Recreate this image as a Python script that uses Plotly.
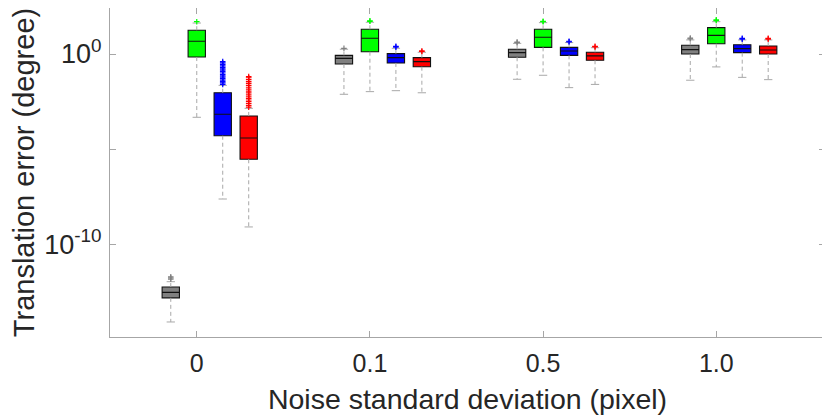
import plotly.graph_objects as go

# ---- data (log10 of translation error, degrees) ----
noise_labels = ["0", "0.1", "0.5", "1.0"]
method_colors = ["#808080", "#00ff00", "#0000ff", "#ff0000"]

gray_upper = [-11.98, 0.25, 0.56, 0.74]
gray_q3 = [-12.26, -0.07, 0.25, 0.46]
gray_med = [-12.54, -0.23, 0.07, 0.23]
gray_q1 = [-12.83, -0.53, -0.17, 0.00]
gray_lower = [-14.10, -2.12, -1.33, -1.38]
gray_out = [[-11.85, -11.78, -11.72], [0.30], [0.60, 0.63], [0.80, 0.84]]

green_upper = [1.63, 1.67, 1.65, 1.70]
green_q3 = [1.25, 1.30, 1.30, 1.39]
green_med = [0.67, 0.83, 0.88, 0.98]
green_q1 = [-0.16, 0.12, 0.35, 0.54]
green_lower = [-3.33, -1.98, -1.12, -0.68]
green_out = [[1.70], [1.72, 1.75], [1.70, 1.72], [1.76, 1.80]]

blue_upper = [-1.65, 0.30, 0.60, 0.74]
blue_q3 = [-2.04, 0.02, 0.35, 0.49]
blue_med = [-3.17, -0.19, 0.16, 0.28]
blue_q1 = [-4.30, -0.47, -0.07, 0.07]
blue_lower = [-7.63, -1.93, -1.77, -1.23]
blue_out = [[-1.60, -1.52, -1.45, -1.38, -1.30, -1.22, -1.15, -1.08, -1.00, -0.93,
             -0.85, -0.78, -0.70, -0.62, -0.55, -0.47, -0.40],
            [0.36, 0.40], [0.64, 0.67], [0.78, 0.82]]

red_upper = [-2.86, 0.09, 0.33, 0.74]
red_q3 = [-3.26, -0.19, 0.09, 0.42]
red_med = [-4.42, -0.40, -0.10, 0.21]
red_q1 = [-5.54, -0.67, -0.33, 0.00]
red_lower = [-9.10, -2.04, -1.60, -1.35]
red_out = [[-2.80, -2.70, -2.60, -2.50, -2.42, -2.33, -2.25, -2.15, -2.05, -1.95,
            -1.85, -1.75, -1.65, -1.55, -1.45, -1.35, -1.25, -1.19],
           [0.13, 0.16], [0.37, 0.40], [0.78, 0.82]]

methods = [
    (gray_upper, gray_q3, gray_med, gray_q1, gray_lower, gray_out),
    (green_upper, green_q3, green_med, green_q1, green_lower, green_out),
    (blue_upper, blue_q3, blue_med, blue_q1, blue_lower, blue_out),
    (red_upper, red_q3, red_med, red_q1, red_lower, red_out),
]

group_pos = [1, 2, 3, 4]
offsets = [-0.15, 0.0, 0.15, 0.30]
box_w = 0.10
cap_half = 0.024


def p(v):
    return 10 ** v


fig = go.Figure()
whisker_col = "#a8a8a8"

for m, (up, q3, med, q1, lo, outs) in enumerate(methods):
    xs = [g + offsets[m] for g in group_pos]
    wx, wy, cx, cy = [], [], [], []
    for i, x in enumerate(xs):
        wx += [x, x, None, x, x, None]
        wy += [p(q3[i]), p(up[i]), None, p(q1[i]), p(lo[i]), None]
        cx += [x - cap_half, x + cap_half, None, x - cap_half, x + cap_half, None]
        cy += [p(up[i]), p(up[i]), None, p(lo[i]), p(lo[i]), None]
    fig.add_trace(go.Scatter(x=wx, y=wy, mode="lines", showlegend=False,
                             line=dict(color=whisker_col, width=1, dash="4px,3px"),
                             hoverinfo="skip"))
    fig.add_trace(go.Scatter(x=cx, y=cy, mode="lines", showlegend=False,
                             line=dict(color=whisker_col, width=1), hoverinfo="skip"))
    fig.add_trace(go.Box(
        x=xs, q1=[p(v) for v in q1], median=[p(v) for v in med], q3=[p(v) for v in q3],
        lowerfence=[p(v) for v in q1], upperfence=[p(v) for v in q3],
        width=box_w, fillcolor=method_colors[m], boxpoints=False,
        line=dict(color="#111111", width=1.1), whiskerwidth=0, showlegend=False))
    ox, oy = [], []
    for i, x in enumerate(xs):
        for v in outs[i]:
            ox.append(x)
            oy.append(p(v))
    fig.add_trace(go.Scatter(x=ox, y=oy, mode="markers", showlegend=False,
                             marker=dict(symbol="cross-thin", size=4,
                                         line=dict(color=method_colors[m], width=1.2))))

axis_col = "#a6a6a6"
font_fam = "Liberation Sans, Arial, sans-serif"
# the page adds an 8px body margin, so the figure is sized to fit the 830x417 window
fig.update_layout(
    width=822, height=409,
    margin=dict(l=102, r=5, t=0, b=80),
    paper_bgcolor="white", plot_bgcolor="white",
    font=dict(family=font_fam, color="#262626"),
    showlegend=False,
    boxmode="overlay",
)
fig.update_xaxes(
    range=[0.499, 4.628], tickvals=group_pos, ticktext=noise_labels,
    ticks="inside", ticklen=6, tickcolor=axis_col, showline=True, linecolor=axis_col,
    linewidth=1, mirror="ticks", showgrid=False, zeroline=False, automargin=False,
    ticklabelstandoff=4,
    tickfont=dict(size=25), title=dict(text="Noise standard deviation (pixel)",
                                        font=dict(size=28.5), standoff=13),
)
fig.update_yaxes(
    type="log", range=[-14.89, 2.42],
    tickvals=[1e-10, 1e-5, 1], ticktext=["10<sup>-10</sup>", "", "10<sup>0</sup>"],
    ticks="inside", ticklen=6, tickcolor=axis_col, showline=True, linecolor=axis_col,
    linewidth=1, mirror="ticks", showgrid=False, zeroline=False, automargin=False,
    ticklabelstandoff=2,
    tickfont=dict(size=27), title=dict(text="Translation error (degree)",
                                        font=dict(size=29), standoff=4),
)

fig.write_html("out.html")
